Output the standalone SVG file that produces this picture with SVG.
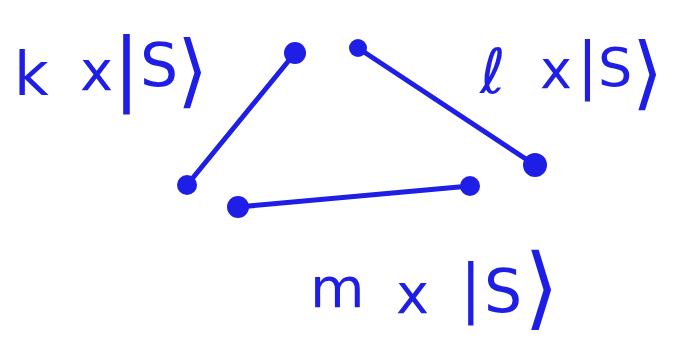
<svg xmlns="http://www.w3.org/2000/svg" width="679" height="339" viewBox="0 0 679 339">
<style>
.ln{stroke:#1e1ee6;stroke-width:5;stroke-linecap:round;fill:none}
.dot{fill:#1e1ee6}
.lbl{fill:#1e1ee6;font-family:"DejaVu Sans",sans-serif}
</style>
<rect width="679" height="339" fill="#ffffff"/>
<g id="connectors">
<line class="ln" x1="295" y1="53" x2="187" y2="185"/>
<line class="ln" x1="358" y1="48" x2="535" y2="165"/>
<line class="ln" x1="238" y1="207" x2="470" y2="186"/>
</g>
<g id="n1"><circle class="dot" cx="295" cy="53" r="11"/></g>
<g id="n2"><circle class="dot" cx="187" cy="185" r="10"/></g>
<g id="n3"><circle class="dot" cx="358" cy="48" r="9"/></g>
<g id="n4"><circle class="dot" cx="535" cy="165" r="12"/></g>
<g id="n5"><circle class="dot" cx="238" cy="207" r="11"/></g>
<g id="n6"><circle class="dot" cx="470" cy="186" r="10"/></g>
<g id="label-k">
<text class="lbl"><tspan x="14" y="95" font-size="60">k</tspan><tspan x="80" y="90" font-size="56">x</tspan><tspan x="113" y="95" font-size="80">|</tspan><tspan x="140" y="86" font-size="60">S</tspan><tspan x="177" y="98" font-size="80">⟩</tspan></text>
</g>
<g id="label-l">
<text class="lbl"><tspan x="480" y="93" font-size="62">ℓ</tspan><tspan x="540" y="88" font-size="54">x</tspan><tspan x="577" y="86" font-size="62">|</tspan><tspan x="598" y="86" font-size="54">S</tspan><tspan x="632" y="100" font-size="80">⟩</tspan></text>
</g>
<g id="label-m">
<text class="lbl"><tspan x="310" y="307" font-size="56">m</tspan><tspan x="396" y="313" font-size="56">x</tspan><tspan x="460" y="310" font-size="64">|</tspan><tspan x="484" y="312" font-size="60">S</tspan><tspan x="524" y="318" font-size="90">⟩</tspan></text>
</g>
</svg>
